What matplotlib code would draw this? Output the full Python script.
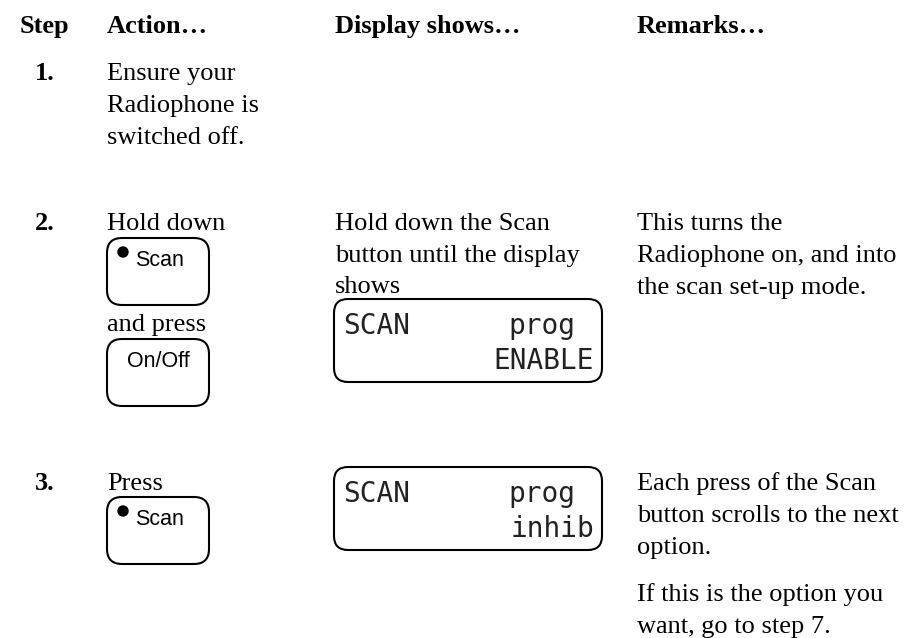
import matplotlib
matplotlib.use("Agg")
import matplotlib.pyplot as plt
from matplotlib.patches import FancyBboxPatch, Circle

W, H = 905, 638

# ---- content ----
headers = ["Step", "Action…", "Display shows…", "Remarks…"]
header_x = [20, 107, 335, 637]

step_labels = ["1.", "2.", "3."]

action_texts = [
    ["Ensure your", "Radiophone is", "switched off."],
    ["Hold down"],
    ["Press"],
]
and_press = "and press"

display_texts = [
    [],
    ["Hold down the Scan", "button until the display", "shows"],
    [],
]
remark_paras = [
    [],
    [["This turns the", "Radiophone on, and into", "the scan set-up mode."]],
    [["Each press of the Scan", "button scrolls to the next", "option."],
     ["If this is the option you", "want, go to step 7."]],
]

buttons = [  # (label, has_dot, top)
    ("Scan", True, 238),
    ("On/Off", False, 339),
    ("Scan", True, 497),
]
lcds = [  # (line1 left, line1 right, line2 right, top)
    ("SCAN", "prog", "ENABLE", 299),
    ("SCAN", "prog", "inhib", 467),
]

row_base = [80, 230, 490]
line_h = 32
para_gap = 15

serif = "Liberation Serif"
sans = "Liberation Sans"
mono = "DejaVu Sans Mono"
FS = 19

fig = plt.figure(figsize=(W / 100, H / 100), dpi=100)
ax = fig.add_axes([0, 0, 1, 1])
ax.set_xlim(0, W)
ax.set_ylim(H, 0)
ax.axis("off")

for hx, ht in zip(header_x, headers):
    ax.text(hx, 33, ht, family=serif, weight="bold", fontsize=FS, va="baseline", ha="left")

for i, lab in enumerate(step_labels):
    ax.text(35, row_base[i], lab, family=serif, weight="bold", fontsize=FS, va="baseline", ha="left")
    for j, t in enumerate(action_texts[i]):
        ax.text(107, row_base[i] + j * line_h, t, family=serif, fontsize=FS, va="baseline")
    for j, t in enumerate(display_texts[i]):
        ax.text(335, row_base[i] + j * line_h - (1 if j == 2 else 0), t, family=serif, fontsize=FS, va="baseline")
    y = row_base[i]
    for para in remark_paras[i]:
        for t in para:
            ax.text(637, y, t, family=serif, fontsize=FS, va="baseline")
            y += line_h
        y += para_gap

ax.text(107, 331, and_press, family=serif, fontsize=FS, va="baseline")

# buttons
bx0, bx1 = 107, 209
for lab, dot, top in buttons:
    h = 67
    p = FancyBboxPatch((bx0, top), bx1 - bx0, h,
                       boxstyle="round,pad=0,rounding_size=15",
                       fc="white", ec="black", lw=1.5)
    ax.add_patch(p)
    if dot:
        ax.add_patch(Circle((123, top + 14), 5, color="black"))
        ax.text(135, top + 28, lab, family=sans, fontsize=15.5, va="baseline")
    else:
        ax.text(158, top + 28, lab, family=sans, fontsize=15.5, va="baseline", ha="center")

# LCD displays
lx0, lx1 = 334, 602
for l1, l1r, l2r, top in lcds:
    p = FancyBboxPatch((lx0, top), lx1 - lx0, 83,
                       boxstyle="round,pad=0,rounding_size=14",
                       fc="white", ec="black", lw=1.5)
    ax.add_patch(p)
    ax.text(343, top + 35, l1, family=mono, fontsize=20, va="baseline", color="#222222")
    ax.text(575, top + 35, l1r, family=mono, fontsize=20, va="baseline", ha="right", color="#222222")
    ax.text(594, top + 70, l2r, family=mono, fontsize=20, va="baseline", ha="right", color="#222222")

fig.savefig("out.png", dpi=100, facecolor="white")
